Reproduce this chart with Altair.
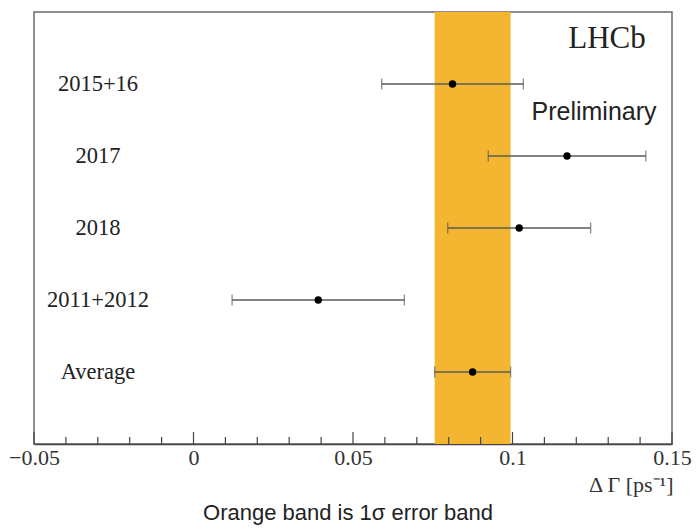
import altair as alt
import numpy as np
import pandas as pd

# Measurements of Delta Gamma per data-taking period
periods = ["2015+16", "2017", "2018", "2011+2012", "Average"]
values = [0.0812, 0.1171, 0.1021, 0.0391, 0.0875]
errors = [0.0222, 0.0247, 0.0224, 0.0270, 0.0119]

major_ticks = [-0.05, 0.0, 0.05, 0.10, 0.15]
minor_ticks = [v for v in np.round(np.arange(-0.05, 0.1501, 0.01), 2).tolist()
               if not any(abs(v - m) < 1e-9 for m in major_ticks)]

W, H = 638, 432
n = len(periods)

df = pd.DataFrame({
    "period": periods,
    "value": values,
    "err": errors,
    "row": [n - i for i in range(n)],
})
df["lo"] = df["value"] - df["err"]
df["hi"] = df["value"] + df["err"]

# the 1 sigma band comes from the average measurement
avg = df[df["period"] == "Average"].iloc[0]
band = pd.DataFrame({"lo": [avg["lo"]], "hi": [avg["hi"]]})

xscale = alt.Scale(domain=[-0.05, 0.15], nice=False, zero=False)
yscale = alt.Scale(domain=[0, n + 1], nice=False, zero=False)

SERIF = "Liberation Serif"
SANS = "Liberation Sans"

x_axis = alt.Axis(
    values=major_ticks,
    labelExpr="format(datum.value, '~g')",
    ticks=False,
    grid=False,
    domain=True,
    domainColor="#444444",
    domainWidth=1.5,
    labelFont=SERIF,
    labelFontSize=22,
    labelColor="#333333",
    labelPadding=3,
    labelFlush=False,
    title="Δ Γ [ps⁻¹]",
    titleFont=SERIF,
    titleFontSize=22,
    titleFontWeight="normal",
    titleColor="#333333",
    titleX=W + 1,
    titleY=40,
    titleAlign="right",
    titleAnchor="end",
    titleBaseline="middle",
)

band_layer = alt.Chart(band).mark_rect(color="#F4B630").encode(
    x=alt.X("lo:Q", scale=xscale, axis=x_axis),
    x2="hi:Q",
    y=alt.value(0),
    y2=alt.value(H),
)

major_layer = alt.Chart(pd.DataFrame({"v": major_ticks})).mark_rule(
    color="#444444", strokeWidth=1.2
).encode(
    x=alt.X("v:Q", scale=xscale),
    y=alt.value(H),
    y2=alt.value(H - 12),
)

minor_layer = alt.Chart(pd.DataFrame({"v": minor_ticks})).mark_rule(
    color="#444444", strokeWidth=1.2
).encode(
    x=alt.X("v:Q", scale=xscale),
    y=alt.value(H),
    y2=alt.value(H - 7),
)

base = alt.Chart(df)

err_layer = base.mark_rule(color="#5a5a5a", strokeWidth=1.3).encode(
    x=alt.X("lo:Q", scale=xscale),
    x2="hi:Q",
    y=alt.Y("row:Q", scale=yscale, axis=None),
)

cap_lo = base.mark_tick(color="#5a5a5a", orient="vertical", size=11, thickness=1.3).encode(
    x=alt.X("lo:Q", scale=xscale),
    y=alt.Y("row:Q", scale=yscale, axis=None),
)
cap_hi = base.mark_tick(color="#5a5a5a", orient="vertical", size=11, thickness=1.3).encode(
    x=alt.X("hi:Q", scale=xscale),
    y=alt.Y("row:Q", scale=yscale, axis=None),
)

pts = base.mark_point(filled=True, color="black", size=55, opacity=1).encode(
    x=alt.X("value:Q", scale=xscale),
    y=alt.Y("row:Q", scale=yscale, axis=None),
)

labels = base.mark_text(font=SERIF, fontSize=22.5, color="#222222", align="center",
                        baseline="middle").encode(
    x=alt.value(64),
    y=alt.Y("row:Q", scale=yscale, axis=None),
    text="period:N",
)

lhcb = alt.Chart(pd.DataFrame({"t": ["LHCb"]})).mark_text(
    font=SERIF, fontSize=31, color="#222222", align="center", baseline="middle"
).encode(x=alt.value(573), y=alt.value(27), text="t:N")

prelim = alt.Chart(pd.DataFrame({"t": ["Preliminary"]})).mark_text(
    font=SANS, fontSize=25, color="#222222", align="center", baseline="middle"
).encode(x=alt.value(560), y=alt.value(100), text="t:N")

note = alt.Chart(pd.DataFrame({"t": ["Orange band is 1σ error band"]})).mark_text(
    font=SANS, fontSize=22, color="#222222", align="center", baseline="middle"
).encode(x=alt.value(314), y=alt.value(501), text="t:N")

chart = alt.layer(
    band_layer, minor_layer, major_layer, err_layer, cap_lo, cap_hi, pts,
    labels, lhcb, prelim, note,
).properties(
    width=W,
    height=H,
    autosize=alt.AutoSizeParams(type="none"),
    padding={"left": 34, "top": 12, "right": 27, "bottom": 88},
    background="white",
).configure_view(
    stroke="#6a6a6a",
    strokeWidth=1.5,
)

chart.save("out.html", embed_options={"renderer": "svg", "actions": False})
